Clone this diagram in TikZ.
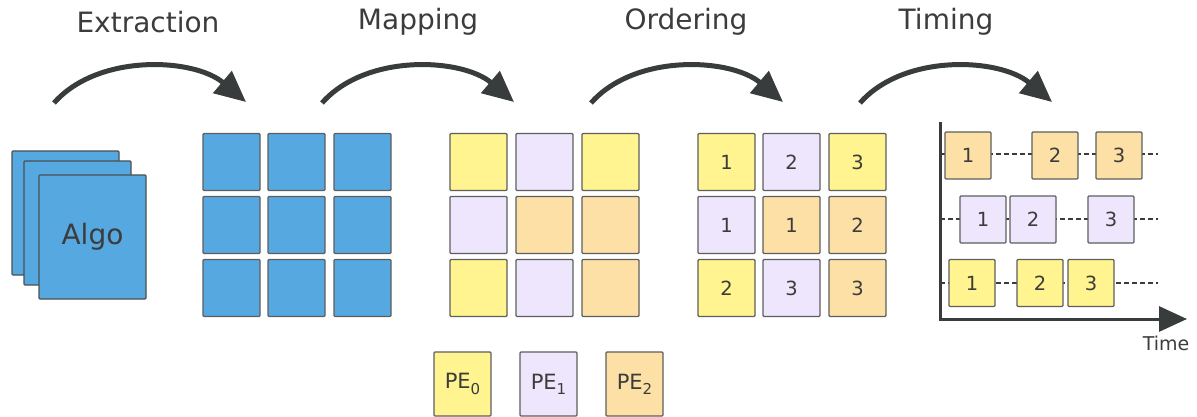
\documentclass[tikz,border=0pt]{standalone}
\usepackage{fontspec}
\setmainfont{DejaVu Sans}
\usetikzlibrary{arrows.meta}
\definecolor{blk}{HTML}{56A8E0}
\definecolor{pyel}{HTML}{FFF48F}
\definecolor{plav}{HTML}{EEE6FC}
\definecolor{pora}{HTML}{FDE0A6}
\definecolor{edge}{HTML}{5E5E5E}
\definecolor{ink}{HTML}{3C3C3C}
\definecolor{dark}{HTML}{383C3C}
\newcommand{\pesub}[1]{\raisebox{-0.25em}{\fontsize{15}{16}\selectfont #1}}
\tikzset{
  cell/.style={draw=edge, line width=1.3pt, rounded corners=1pt, minimum width=57pt, minimum height=57pt, inner sep=0pt, text=ink, font=\fontsize{19.5}{21}\selectfont},
  slot/.style={cell, minimum width=46pt, minimum height=47pt},
  page/.style={draw=dark!90, line width=1.3pt, rounded corners=1pt, fill=blk, minimum width=107pt, minimum height=124pt, inner sep=0pt},
  legend/.style={cell, minimum height=64pt, font=\fontsize{21}{23}\selectfont},
  title/.style={text=ink, font=\fontsize{28}{30}\selectfont},
  stage/.style={draw=dark, line width=5pt, -{Triangle[length=31pt,width=28pt]}},
  axis/.style={draw=dark, line width=3pt},
  timeline/.style={draw=dark, line width=1.4pt, dash pattern=on 5pt off 3pt},
}
\begin{document}
\begin{tikzpicture}[x=1pt,y=-1pt]
\useasboundingbox (0,0) rectangle (1197,417);

% stage titles
\node[title] (tExt) at (148,22) {Extraction};
\node[title] (tMap) at (418,22) {Mapping};
\node[title] (tOrd) at (686,22) {Ordering};
\node[title] (tTim) at (946,22) {Timing};

% curved stage arrows
\foreach \i/\dx in {1/0,2/268,3/537,4/806}{
  \coordinate (s\i) at (54+\dx,103);
  \coordinate (e\i) at (246+\dx,102);
  \draw[stage] (s\i) .. controls ++(44,-50) and ++(-52,-44) .. (e\i);
}

% the algorithm as a stack of pages
\node[page] (pg1) at (65.5,213) {};
\node[page] (pg2) at (77.5,223) {};
\node[page, font=\fontsize{28}{30}\selectfont, text=ink] (pg3) at (92.5,237) {Algo};

% extracted tasks
\foreach \c/\x in {1/231.5,2/296.5,3/362.5}
  \foreach \r/\y in {1/162,2/225,3/288}
    \node[cell, fill=blk] (b\r\c) at (\x,\y) {};

% tasks mapped to processing elements
\foreach \r/\y/\ca/\cb/\cc in {1/162/pyel/plav/pyel, 2/225/plav/pora/pora, 3/288/pyel/plav/pora}{
  \node[cell, fill=\ca] (m\r1) at (478.5,\y) {};
  \node[cell, fill=\cb] (m\r2) at (544.5,\y) {};
  \node[cell, fill=\cc] (m\r3) at (610.5,\y) {};
}

% ordered tasks
\foreach \r/\y/\ca/\cb/\cc/\na/\nb/\nc in {1/162/pyel/plav/pyel/1/2/3, 2/225/plav/pora/pora/1/1/2, 3/288/pyel/plav/pora/2/3/3}{
  \node[cell, fill=\ca] (o\r1) at (726.5,\y) {\na};
  \node[cell, fill=\cb] (o\r2) at (791.5,\y) {\nb};
  \node[cell, fill=\cc] (o\r3) at (857.5,\y) {\nc};
}

% processing element legend
\node[legend, fill=pyel] (pe0) at (462.5,384) {PE\pesub{0}};
\node[legend, fill=plav] (pe1) at (548.5,384) {PE\pesub{1}};
\node[legend, fill=pora] (pe2) at (634.5,384) {PE\pesub{2}};

% timelines
\coordinate (l1s) at (940,154); \coordinate (l1e) at (1158,154);
\coordinate (l2s) at (940,219); \coordinate (l2e) at (1158,219);
\coordinate (l3s) at (940,283); \coordinate (l3e) at (1158,283);
\draw[timeline] (l1s) -- (l1e);
\draw[timeline] (l2s) -- (l2e);
\draw[timeline] (l3s) -- (l3e);

% schedule
\node[slot, fill=pora] (t11) at (968,155.5) {1};
\node[slot, fill=pora] (t12) at (1055,155.5) {2};
\node[slot, fill=pora] (t13) at (1119,155.5) {3};
\node[slot, fill=plav] (t21) at (983,219.5) {1};
\node[slot, fill=plav] (t22) at (1033,219.5) {2};
\node[slot, fill=plav] (t23) at (1111,219.5) {3};
\node[slot, fill=pyel] (t31) at (972,283) {1};
\node[slot, fill=pyel] (t32) at (1040,283) {2};
\node[slot, fill=pyel] (t33) at (1091,283) {3};

% axes
\coordinate (ytop) at (940,122);
\coordinate (orig) at (940,319);
\coordinate (xend) at (1187,319);
\draw[axis, -{Triangle[length=28pt,width=25pt]}] (ytop) -- (orig) -- (xend);
\node[text=ink, font=\fontsize{19}{21}\selectfont] (time) at (1166,343) {Time};
\end{tikzpicture}
\end{document}
